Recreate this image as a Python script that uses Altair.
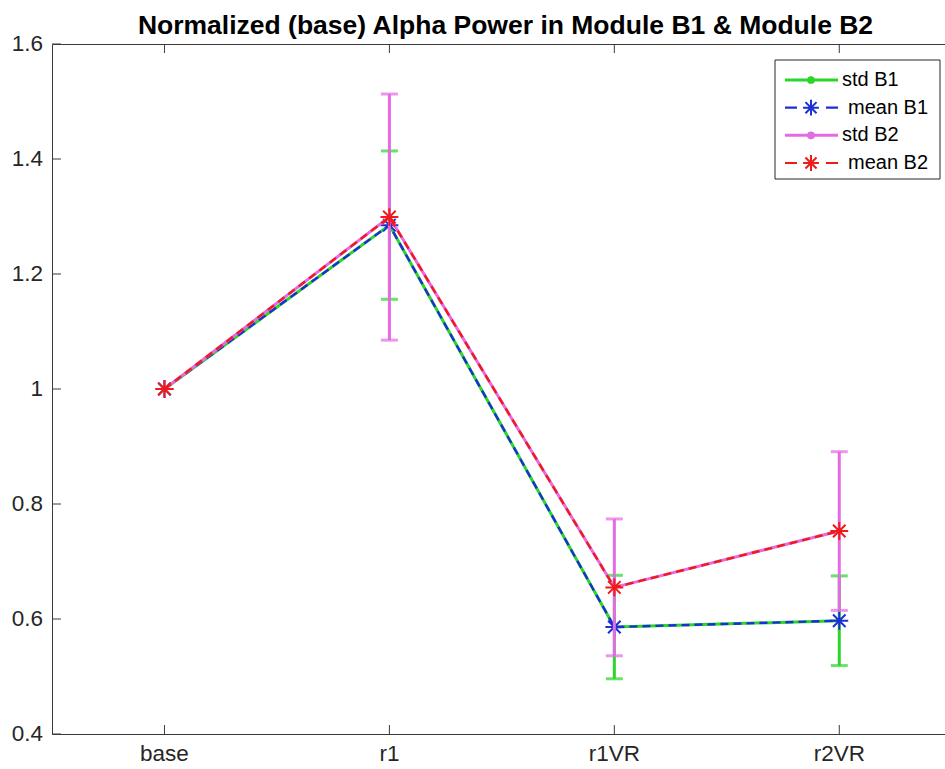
import altair as alt
import pandas as pd

# ---------------- data ----------------
categories = ["base", "r1", "r1VR", "r2VR"]
positions = [1, 2, 3, 4]
mean_b1 = [1.0, 1.285, 0.586, 0.597]
std_b1 = [0.0, 0.129, 0.090, 0.078]
mean_b2 = [1.0, 1.299, 0.655, 0.753]
std_b2 = [0.0, 0.214, 0.119, 0.138]
series_names = ["std B1", "mean B1", "std B2", "mean B2"]
series_colors = ["#2bd62b", "#1c2fd6", "#e46be4", "#f01a1a"]
y_ticks = [0.4, 0.6, 0.8, 1.0, 1.2, 1.4, 1.6]
title_text = "Normalized (base) Alpha Power in Module B1 & Module B2"

FONT = "Liberation Sans"
W, H = 893, 690
AXIS_COLOR = "#3a3a3a"
TEXT_COLOR = "#262626"
ASTERISK = "M0,-1V1M-1,0H1M-0.7,-0.7L0.7,0.7M-0.7,0.7L0.7,-0.7"


def module_df(means, stds, std_name, mean_name):
    return pd.DataFrame({
        "pos": positions,
        "cat": categories,
        "mean": means,
        "std": stds,
        "lo": [m - s for m, s in zip(means, stds)],
        "hi": [m + s for m, s in zip(means, stds)],
        "std_series": std_name,
        "mean_series": mean_name,
    })


df1 = module_df(mean_b1, std_b1, "std B1", "mean B1")
df2 = module_df(mean_b2, std_b2, "std B2", "mean B2")

x_scale = alt.Scale(domain=[0.5, 4.47], nice=False, zero=False)
y_scale = alt.Scale(domain=[0.4, 1.6], nice=False, zero=False)
color_scale = alt.Scale(domain=series_names, range=series_colors)


def X(field):
    return alt.X(field, scale=x_scale, axis=None)


def Y(field):
    return alt.Y(field, scale=y_scale, axis=None)


def module_layers(df):
    bars_df = df[df["std"] > 0]
    std_color = alt.Color("std_series:N", scale=color_scale, legend=None)
    mean_color = alt.Color("mean_series:N", scale=color_scale, legend=None)
    std_line = alt.Chart(df).mark_line(strokeWidth=3).encode(
        x=X("pos:Q"), y=Y("mean:Q"), color=std_color)
    rules = alt.Chart(bars_df).mark_rule(strokeWidth=3).encode(
        x=X("pos:Q"), y=Y("lo:Q"), y2="hi:Q", color=std_color)
    caps_lo = alt.Chart(bars_df).mark_tick(orient="horizontal", size=17, thickness=3).encode(
        x=X("pos:Q"), y=Y("lo:Q"), color=std_color)
    caps_hi = alt.Chart(bars_df).mark_tick(orient="horizontal", size=17, thickness=3).encode(
        x=X("pos:Q"), y=Y("hi:Q"), color=std_color)
    mean_line = alt.Chart(df).mark_line(strokeWidth=2.4, strokeDash=[8, 5]).encode(
        x=X("pos:Q"), y=Y("mean:Q"), color=mean_color)
    stars = alt.Chart(df).mark_point(shape=ASTERISK, filled=False, size=320,
                                     strokeWidth=2, opacity=1).encode(
        x=X("pos:Q"), y=Y("mean:Q"), color=mean_color)
    return [std_line, rules, caps_lo, caps_hi, mean_line, stars]


# ---------------- axes (ticks inside, labels outside) ----------------
xt = pd.DataFrame({"pos": positions, "cat": categories})
yt = pd.DataFrame({"tick": y_ticks, "label": [f"{v:g}" for v in y_ticks]})
x_ticks_bottom = alt.Chart(xt).mark_rule(color=AXIS_COLOR, strokeWidth=1).encode(
    x=X("pos:Q"), y=alt.value(H), y2=alt.value(H - 9))
x_ticks_top = alt.Chart(xt).mark_rule(color=AXIS_COLOR, strokeWidth=1).encode(
    x=X("pos:Q"), y=alt.value(0), y2=alt.value(9))
y_ticks_left = alt.Chart(yt).mark_rule(color=AXIS_COLOR, strokeWidth=1).encode(
    y=Y("tick:Q"), x=alt.value(0), x2=alt.value(9))
x_labels = alt.Chart(xt).mark_text(font=FONT, fontSize=22.5, color=TEXT_COLOR,
                                   align="center", baseline="top").encode(
    x=X("pos:Q"), y=alt.value(H + 9), text="cat:N")
y_labels = alt.Chart(yt).mark_text(font=FONT, fontSize=22.5, color=TEXT_COLOR,
                                   align="right", baseline="middle").encode(
    y=Y("tick:Q"), x=alt.value(-9), text="label:N")

# ---------------- title ----------------
title_mark = alt.Chart(pd.DataFrame({"t": [title_text]})).mark_text(
    font=FONT, fontSize=26.5, fontWeight="bold", color="black",
    align="center", baseline="alphabetic").encode(
    x=alt.value(W / 2 + 7), y=alt.value(-10), text="t:N")

# ---------------- legend (drawn from the series list) ----------------
leg_df = pd.DataFrame({
    "series": series_names,
    "row": list(range(len(series_names))),
    "kind": [s.split()[0] for s in series_names],
})
row_y = alt.Y("row:Q", scale=alt.Scale(domain=[0, 3], range=[36, 119]), axis=None)
leg_color = alt.Color("series:N", scale=color_scale, legend=None)
leg_box = alt.Chart(pd.DataFrame({"k": [0]})).mark_rect(
    fill="white", stroke=TEXT_COLOR, strokeWidth=1).encode(
    x=alt.value(723), x2=alt.value(888), y=alt.value(16), y2=alt.value(135))
std_rows = alt.Chart(leg_df).transform_filter("datum.kind == 'std'")
mean_rows = alt.Chart(leg_df).transform_filter("datum.kind == 'mean'")
leg_std_line = std_rows.mark_rule(strokeWidth=3).encode(
    x=alt.value(733), x2=alt.value(786), y=row_y, color=leg_color)
leg_std_dot = std_rows.mark_point(shape="circle", filled=True, size=60, opacity=1).encode(
    x=alt.value(759), y=row_y, color=leg_color)
leg_mean_line = mean_rows.mark_rule(strokeWidth=2.2, strokeDash=[12, 29]).encode(
    x=alt.value(733), x2=alt.value(786), y=row_y, color=leg_color)
leg_mean_star = mean_rows.mark_point(shape=ASTERISK, filled=False, size=250,
                                     strokeWidth=2, opacity=1).encode(
    x=alt.value(759), y=row_y, color=leg_color)
leg_std_text = std_rows.mark_text(font=FONT, fontSize=20, color="black",
                                  align="left", baseline="middle").encode(
    x=alt.value(790), y=row_y, text="series:N")
leg_mean_text = mean_rows.mark_text(font=FONT, fontSize=20, color="black",
                                    align="left", baseline="middle").encode(
    x=alt.value(796), y=row_y, text="series:N")

layers = (module_layers(df1) + module_layers(df2) + [
    x_ticks_bottom, x_ticks_top, y_ticks_left, x_labels, y_labels, title_mark,
    leg_box, leg_std_line, leg_std_dot, leg_mean_line, leg_mean_star,
    leg_std_text, leg_mean_text])

chart = alt.layer(*layers).resolve_scale(y="independent").properties(
    width=W, height=H,
    padding={"left": 52, "top": 44, "right": 0, "bottom": 35},
    autosize=alt.AutoSizeParams(type="none"),
).configure(background="white").configure_view(stroke=AXIS_COLOR, strokeWidth=1)

chart.save("out.html", embed_options={"renderer": "svg", "actions": False})
